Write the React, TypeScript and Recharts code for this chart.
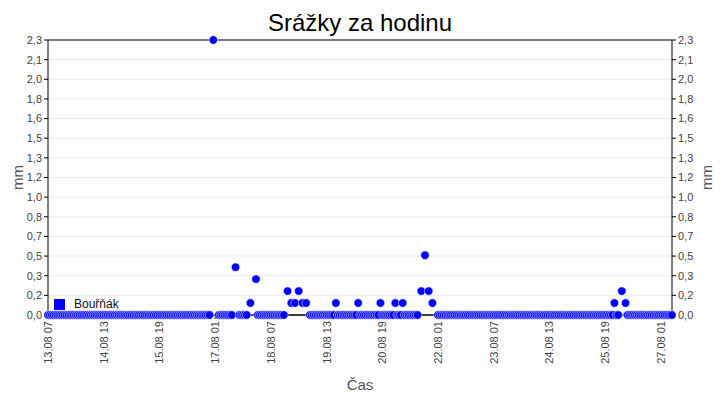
import { CartesianGrid, Line, LineChart, ReferenceLine, XAxis, YAxis } from 'recharts';

// hourly series, first record 13.08 07, last 27.08 07
const firstDay = 13;
const firstHour = 7;
const hourCount = 337;

// hours (from the first record) with rain, and the amount in mm
const rainHours = [89, 101, 109, 112, 129, 131, 133, 135, 137, 139, 155, 167, 179, 187, 191, 201, 203, 205, 207, 305, 309, 311];
const rainValues = [2.3, 0.4, 0.1, 0.3, 0.2, 0.1, 0.1, 0.2, 0.1, 0.1, 0.1, 0.1, 0.1, 0.1, 0.1, 0.2, 0.5, 0.2, 0.1, 0.1, 0.2, 0.1];
// hours with no record
const missingHours = [88, 90, 91, 100, 102, 108, 110, 111, 128, 130, 132, 134, 136, 138, 140, 200, 202, 204, 206, 208, 209, 308, 310];

const yMax = 2.3;
const yTickLabels = ['0,0', '0,2', '0,3', '0,5', '0,7', '0,8', '1,0', '1,2', '1,3', '1,5', '1,6', '1,8', '2,0', '2,1', '2,3'];
const yTicks = yTickLabels.map((_, i) => (yMax * i) / (yTickLabels.length - 1));

const pad = (n: number) => String(n).padStart(2, '0');

const data = Array.from({ length: hourCount }, (_, h) => {
  const day = firstDay + Math.floor((firstHour + h) / 24);
  const hour = (firstHour + h) % 24;
  const rainIdx = rainHours.indexOf(h);
  let value: number | null = 0;
  if (rainIdx >= 0) value = rainValues[rainIdx];
  else if (missingHours.includes(h)) value = null;
  return { label: `${pad(day)}.08 ${pad(hour)}`, value };
});

const font = '"Liberation Sans", Arial, sans-serif';

const XTick = (props: any) => {
  const { x, y, payload } = props;
  return (
    <g transform={`translate(${x},${y})`}>
      <text transform="rotate(-90)" textAnchor="end" dy={4} fontSize={11} fill="#444" fontFamily={font}>
        {payload.value}
      </text>
    </g>
  );
};

const AxisTitle = (shift: number) => (props: any) => {
  const { viewBox } = props;
  const cx = viewBox.x + shift;
  const cy = viewBox.y + viewBox.height / 2;
  return (
    <text x={cx} y={cy} transform={`rotate(-90 ${cx} ${cy})`} textAnchor="middle" dominantBaseline="central" fontSize={15} fill="#555" fontFamily={font}>
      mm
    </text>
  );
};

const yAxisProps = {
  width: 48,
  domain: [0, yMax] as [number, number],
  ticks: yTicks,
  interval: 0 as const,
  tickFormatter: (_v: number, i: number) => yTickLabels[i],
  tick: { fontSize: 11, fill: '#444', fontFamily: font },
  tickSize: 4,
  tickMargin: 2,
  axisLine: { stroke: '#000' },
  tickLine: { stroke: '#000' },
};

const App = () => {
  return (
    <div style={{ position: 'relative', width: 720, height: 400, fontFamily: font, background: '#fff' }}>
      <style>{'body{margin:0}'}</style>
      <div style={{ position: 'absolute', left: 0, top: 11, width: 720, textAlign: 'center', fontSize: 24, lineHeight: '24px', color: '#000' }}>
        Srážky za hodinu
      </div>
      <LineChart width={720} height={400} data={data} margin={{ top: 40, right: 0, bottom: 0, left: 0 }}>
        <CartesianGrid yAxisId="left" vertical={false} stroke="#ebebeb" />
        <XAxis
          dataKey="label"
          interval={29}
          height={85}
          tick={<XTick />}
          tickSize={4}
          tickMargin={2}
          axisLine={{ stroke: '#000' }}
          tickLine={{ stroke: '#000' }}
          label={{ value: 'Čas', position: 'insideBottom', offset: 10, fontSize: 15, fill: '#555', fontFamily: font }}
        />
        <YAxis yAxisId="left" {...yAxisProps} label={AxisTitle(17)} />
        <YAxis yAxisId="right" orientation="right" {...yAxisProps} label={AxisTitle(34)} />
        <ReferenceLine yAxisId="left" y={yMax} stroke="#000" />
        <ReferenceLine yAxisId="left" y={0} stroke="#000" />
        <Line yAxisId="right" dataKey="value" stroke="none" dot={false} activeDot={false} isAnimationActive={false} />
        <Line
          yAxisId="left"
          dataKey="value"
          stroke="none"
          connectNulls={false}
          dot={{ r: 4.2, fill: '#0000ff', stroke: '#ffffff', strokeWidth: 0.5 }}
          activeDot={false}
          isAnimationActive={false}
        />
      </LineChart>
      <div style={{ position: 'absolute', left: 54, top: 297, display: 'flex', alignItems: 'center', fontSize: 12, color: '#111' }}>
        <span style={{ display: 'inline-block', width: 11, height: 11, background: '#0000ff', marginRight: 9 }} />
        Bouřňák
      </div>
    </div>
  );
};

export default App;
